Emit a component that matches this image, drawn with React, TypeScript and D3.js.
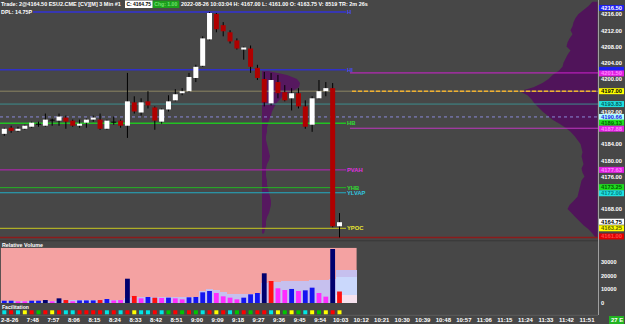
import React, { useLayoutEffect, useRef, useState } from "react";
import * as d3 from "d3";

// ---------------- data ----------------
const barOpen = [4186.5,4188.0,4187.25,4187.75,4188.25,4189.0,4188.5,4190.0,4189.75,4190.5,
 4189.75,4188.5,4189.25,4190.0,4190.0,4187.75,4189.5,4189.75,4188.5,4194.25,
 4191.75,4194.5,4193.0,4189.5,4192.5,4194.75,4196.5,4197.0,4200.25,4203.25,
 4209.75,4216.0,4213.25,4211.5,4209.5,4207.25,4207.5,4202.75,4200.0,4194.0,
 4199.25,4196.75,4195.25,4196.5,4193.25,4188.75,4195.25,4197.0,4197.75,4163.75];
const barHigh = [4188.0,4188.5,4188.25,4188.75,4189.5,4189.5,4191.5,4190.25,4191.5,4191.0,
 4190.0,4190.0,4190.25,4191.0,4191.5,4190.0,4190.75,4190.0,4201.5,4195.75,
 4195.25,4197.0,4193.25,4192.75,4196.0,4197.5,4197.75,4201.5,4203.5,4210.5,
 4216.5,4216.25,4214.0,4212.0,4210.0,4208.0,4208.25,4203.5,4201.75,4201.5,
 4201.0,4198.5,4197.75,4197.75,4194.75,4195.75,4199.75,4199.25,4199.0,4167.0];
const barLow = [4186.0,4186.75,4187.0,4187.5,4188.0,4188.25,4188.25,4188.5,4188.5,4187.75,
 4188.25,4188.0,4188.0,4189.5,4187.5,4187.5,4188.75,4188.0,4185.5,4191.5,
 4191.0,4192.75,4187.5,4189.0,4192.0,4194.5,4196.0,4196.75,4199.25,4203.0,
 4209.5,4211.5,4210.5,4208.75,4207.25,4204.75,4201.5,4199.75,4193.25,4193.5,
 4195.25,4194.5,4192.25,4192.75,4187.75,4187.0,4195.0,4195.75,4163.5,4161.0];
const barClose = [4187.75,4187.25,4187.75,4188.5,4189.25,4189.0,4190.0,4190.0,4190.75,4189.5,
 4188.5,4189.0,4190.0,4190.5,4187.75,4189.75,4189.5,4188.5,4194.5,4192.0,
 4194.25,4193.5,4189.75,4192.5,4194.5,4196.25,4197.0,4200.5,4203.0,4210.0,
 4216.25,4212.25,4211.75,4209.25,4207.5,4207.75,4203.0,4200.25,4194.25,4199.75,
 4196.5,4194.75,4196.5,4193.25,4188.25,4195.25,4197.0,4197.75,4163.75,4164.75];

const barVolume = [1700,1700,1250,1250,1700,1700,2200,1250,3450,2200,
 1250,1900,1900,1900,2200,2960,1900,2200,18000,5200,
 3450,4450,3950,3700,3950,3450,2700,4200,4450,7900,
 8900,7400,4940,3950,2700,3950,6420,7400,22000,16300,
 10900,9630,10400,8900,9380,11350,7400,4700,40000,8519];
const volumeClass = "BBMMBBNMNRMBBBRBMMNRMBRMBMMBBBBMMMMBBBNRMMBMBBMMNR".split("");
const avgVolume = [1500,1500,1500,1600,1600,1600,1800,1800,1800,1900,
 1900,1900,2200,2200,2200,2300,2300,2300,4000,4200,
 4200,4300,4300,4300,4400,4400,4400,4500,4500,9000,
 10500,10000,8000,6500,6300,6300,6300,6400,15000,15500,
 15800,16000,16200,16400,16500,16800,17000,17200,17500,24400,
 24400,24400];
const bandStartBar = 49;
const bandHigh = [19500, 19500, 19500];
const bandLow = [5900, 5900, 5900];
const volumePaneMax = 40800;

const facilitation = "CRCYRGRYRCCRRRRCRCRYCCRCGRGRGCRYRCGRGRRCYGYGCYGYRY".split("");

const timeLabels = ["7:48","7:57","8:06","8:15","8:24","8:33","8:42","8:51","9:00","9:09",
 "9:18","9:27","9:36","9:45","9:54","10:03","10:12","10:21","10:30","10:39","10:48",
 "10:57","11:06","11:15","11:24","11:33","11:42","11:51"];
const priceTicks = [4216, 4212, 4208, 4204, 4200, 4192, 4184, 4180, 4176, 4168];
const volumeTicks = [30000, 20000, 10000, 0];

const levelNames = ["H","HI","VAH","POC","VWAP","VWAPB","HB","VAL","PVAH","YHB","YLVAP","YPOC","LOD"];
const levelPrices = [4216.5, 4202.25, 4201.5, 4197.0, 4193.83, 4190.66, 4189.13, 4187.88, 4177.63, 4173.25, 4172.0, 4163.25, 4161.0];

const axisBoxKinds = ["H","HI","VAH","POC","VWAP","VWAPB","HB","VAL","PVAH","YHB","YLVAP","LAST","YPOC","LOD"];
const axisBoxValues = [4216.5, 4202.25, 4201.5, 4197.0, 4193.83, 4190.66, 4189.13, 4187.88, 4177.63, 4173.25, 4172.0, 4164.75, 4163.25, 4161.0];

const profilePrices = [4219,4218,4217,4216,4215,4214,4213,4212,4211,4210,4209,4208,4207,4206,4205,4204,4203,4202,4201,4200,
 4199,4198,4197,4196,4195,4194,4193,4192,4191,4190,4189,4188,4187,4186,4185,4184,4183,4182,4181,4180,
 4179,4178,4177,4176,4175,4174,4173,4172,4171,4170,4169,4168,4167,4166,4165,4164,4163,4162,4161];
const profileVolume = [500,900,1400,1900,2200,2400,2500,2700,2500,2800,3000,3100,2700,3000,3200,3400,3500,3900,4500,4900,
 5500,6400,7800,7000,6600,6300,5900,5500,5000,4500,3800,3200,2700,2300,2000,1700,1600,1500,1600,1500,
 1400,1600,1500,1300,1600,1700,1800,1900,2000,2400,2800,3000,2600,2200,1800,1400,900,500,200];
const midProfilePrices = [4202,4201,4200,4199,4198,4197,4196,4195,4194,4193,4192,4191,4190,4189,4188,4187,4186,4185,4184,4183,
 4182,4181,4180,4179,4178,4177,4176,4175,4174,4173,4172,4171,4170,4169,4168,4167,4166,4165,4164,4163,4162];
const midProfileVolume = [600,2500,3500,3800,3700,3000,2200,1800,1400,1200,1000,900,700,600,500,500,400,400,500,600,
 700,800,700,500,400,400,400,500,500,600,700,800,900,900,800,700,500,400,400,300,200];

const header1 = "Trade: 2@4164.50 ESU2.CME [CV][M] 3 Min #1";
const headerClose = "C: 4164.75";
const headerChg = "Chg: 1.00";
const header2 = "2022-08-26 10:03:04 H: 4167.00 L: 4161.00 O: 4163.75 V: 8519 TR: 2m 26s";
const header3 = "DPL: 14.75P";

// ---------------- styles ----------------
const BG = "#474747";
const FONT = "'Liberation Sans', Arial, sans-serif";
const volColors: Record<string, string> = { N: "#00006e", B: "#1414f0", M: "#ff2cff", R: "#ff1010" };
const facColors: Record<string, string> = { C: "#00e6e6", R: "#ff0000", Y: "#ffff00", G: "#00c400" };
type Seg = { x0: number; x1: number; color: string; w: number; dash?: string };
const levelStyle: Record<string, { segs: Seg[]; label?: string; labelColor?: string }> = {
  H: { segs: [{ x0: 33, x1: 346, color: "#3232d6", w: 1.5 }], label: "H", labelColor: "#4a4aff" },
  HI: { segs: [{ x0: 0, x1: 346, color: "#3030c8", w: 1.5 }], label: "HI", labelColor: "#4a4aff" },
  VAH: { segs: [{ x0: 350, x1: 598, color: "#d020d0", w: 1 }] },
  POC: { segs: [{ x0: 0, x1: 598, color: "#8c8462", w: 1 }, { x0: 352, x1: 598, color: "#f0b030", w: 1.5, dash: "4,2" }] },
  VWAP: { segs: [{ x0: 0, x1: 598, color: "#3c8c8c", w: 1 }] },
  VWAPB: { segs: [{ x0: 0, x1: 598, color: "#8a8ad8", w: 1, dash: "3,3" }] },
  HB: { segs: [{ x0: 0, x1: 346, color: "#22c222", w: 1.5 }], label: "HB", labelColor: "#30e030" },
  VAL: { segs: [{ x0: 350, x1: 598, color: "#c038c0", w: 1 }] },
  PVAH: { segs: [{ x0: 0, x1: 346, color: "#c020c0", w: 1 }], label: "PVAH", labelColor: "#e030e0" },
  YHB: { segs: [{ x0: 0, x1: 346, color: "#22b822", w: 1 }], label: "YHB", labelColor: "#30e030" },
  YLVAP: { segs: [{ x0: 0, x1: 346, color: "#22aac2", w: 1 }], label: "YLVAP", labelColor: "#30c8e0" },
  YPOC: { segs: [{ x0: 0, x1: 346, color: "#c8c820", w: 1 }], label: "YPOC", labelColor: "#e8e830" },
  LOD: { segs: [{ x0: 0, x1: 598, color: "#8a1c1c", w: 1.5 }] },
};
const boxStyle: Record<string, { bg: string; fg: string; shift: number; text: boolean }> = {
  H: { bg: "#2020f0", fg: "#ffffff", shift: -4, text: true }, HI: { bg: "#2020f0", fg: "#ffffff", shift: 0, text: false },
  VAH: { bg: "#e020e0", fg: "#ff86ff", shift: 0.5, text: true }, POC: { bg: "#ffff00", fg: "#000000", shift: 0, text: true },
  VWAP: { bg: "#20e0e0", fg: "#006060", shift: 0, text: true }, VWAPB: { bg: "#b0ffff", fg: "#2020e0", shift: 0, text: true },
  HB: { bg: "#20e020", fg: "#006000", shift: -0.5, text: true }, VAL: { bg: "#e020e0", fg: "#ff86ff", shift: 0.5, text: true },
  PVAH: { bg: "#e020e0", fg: "#ff86ff", shift: 0, text: true }, YHB: { bg: "#20e020", fg: "#006000", shift: -0.5, text: true },
  YLVAP: { bg: "#20e0e0", fg: "#008080", shift: 0.5, text: true }, LAST: { bg: "#ffffff", fg: "#000000", shift: -0.5, text: true },
  YPOC: { bg: "#ffff00", fg: "#606000", shift: 0, text: true }, LOD: { bg: "#e00000", fg: "#ff4848", shift: -1, text: true },
};

const txt = { fontFamily: FONT, fontWeight: 700 as const, fontSize: 6.2 };
const axTxt = { fontFamily: FONT, fontWeight: 700 as const, fontSize: 5.6 };

function FitText(props: { x: number; y: number; width: number; fill: string; size?: number; children: string }) {
  const ref = useRef<SVGTextElement>(null);
  const [k, setK] = useState(1);
  useLayoutEffect(() => {
    const el = ref.current;
    if (!el) return;
    const n = el.getComputedTextLength();
    if (n > 0) setK(Math.min(1, props.width / n));
  }, [props.children, props.width]);
  return (
    <text ref={ref} transform={`translate(${props.x},${props.y}) scale(${k},1)`} fill={props.fill}
      {...txt} fontSize={props.size ?? 6.2}>{props.children}</text>
  );
}

export default function App() {
  const x = d3.scaleLinear().domain([0, 49]).range([4.3, 339.5]);
  const step = x(1) - x(0);
  const y = d3.scaleLinear().domain([4216, 4168]).range([14, 209]);
  const vy = d3.scaleLinear().domain([0, 30000]).range([303, 262.5]);
  const pw = d3.scaleLinear().domain([0, 100]).range([0, 1]);
  const bodyW = 5;

  const rightProfile = d3.area<number>()
    .y((_, i) => y(profilePrices[i]))
    .x0(597.5)
    .x1((d) => 597.5 - pw(d))
    .curve(d3.curveLinear)(profileVolume);
  const midProfile = d3.area<number>()
    .y((_, i) => y(midProfilePrices[i]))
    .x0(262)
    .x1((d) => 262 + pw(d))
    .curve(d3.curveLinear)(midProfileVolume);

  return (
    <div>
      <style>{`body{margin:0;background:${BG}}`}</style>
      <svg width={625} height={324} style={{ display: "block" }}>
        <rect x={0} y={0} width={625} height={324} fill={BG} />
        <defs>
          <clipPath id="pricePane"><rect x={0} y={0} width={598} height={240.5} /></clipPath>
        </defs>
        <g clipPath="url(#pricePane)">
          <path d={rightProfile || ""} fill="#50145a" />
          <path d={midProfile || ""} fill="#56185f" />
          {levelNames.map((n, i) => {
            const st = levelStyle[n];
            const yy = y(levelPrices[i]);
            return (
              <g key={n}>
                {st.segs.map((s, j) => (
                  <line key={j} x1={s.x0} x2={s.x1} y1={yy} y2={yy} stroke={s.color} strokeWidth={s.w} strokeDasharray={s.dash} />
                ))}
                {st.label && (
                  <text x={347} y={yy + 2.1} fill={st.labelColor} {...txt} fontSize={5.8}>{st.label}</text>
                )}
              </g>
            );
          })}
          {barOpen.map((o, i) => {
            const c = barClose[i];
            const cx = x(i);
            const top = y(Math.max(o, c));
            const bot = y(Math.min(o, c));
            const doji = o === c;
            const fill = doji ? "#000000" : c > o ? "#ffffff" : "#b00000";
            return (
              <g key={i}>
                <line x1={cx} x2={cx} y1={y(barHigh[i])} y2={y(barLow[i])} stroke="#000000" strokeWidth={1} />
                <rect x={cx - bodyW / 2} y={top} width={bodyW} height={Math.max(1, bot - top)} fill={fill} />
              </g>
            );
          })}
        </g>
        <line x1={0} x2={598} y1={240.8} y2={240.8} stroke="#333333" strokeWidth={0.8} />

        {/* right price axis */}
        <line x1={598.5} x2={598.5} y1={0} y2={315} stroke="#a0a0a0" strokeWidth={1} />
        {axisBoxKinds.map((k, i) => {
          const st = boxStyle[k];
          const yy = y(axisBoxValues[i]) + st.shift;
          return (
            <g key={k + i}>
              <rect x={599} y={yy - 3} width={25} height={6} fill={st.bg} />
              {st.text && (
                <text x={601} y={yy + 2} fill={st.fg} {...axTxt} textLength={21} lengthAdjust="spacingAndGlyphs">{axisBoxValues[i].toFixed(2)}</text>
              )}
            </g>
          );
        })}
        {priceTicks.map((p) => (
          <text key={p} x={601} y={y(p) + 2.3} fill="#ffffff" {...axTxt} textLength={21} lengthAdjust="spacingAndGlyphs">{p.toFixed(2)}</text>
        ))}

        {/* header */}
        <FitText x={1} y={6.3} width={120} fill="#ffffff">{header1}</FitText>
        <rect x={125} y={0.5} width={27.7} height={7.5} fill="#ffffff" />
        <FitText x={126.5} y={6.3} width={24.5} fill="#000000">{headerClose}</FitText>
        <rect x={152.7} y={0.5} width={26.6} height={7.5} fill="#1c9e1c" />
        <FitText x={154.3} y={6.3} width={23} fill="#6ee06e">{headerChg}</FitText>
        <FitText x={181} y={6.3} width={186.5} fill="#ffffff">{header2}</FitText>
        <FitText x={1} y={13.8} width={31} fill="#ffffff">{header3}</FitText>

        {/* relative volume pane */}
        <FitText x={2} y={246.6} width={41} size={5.8} fill="#ffffff">Relative Volume</FitText>
        <rect x={x(0) - step / 2} y={vy(volumePaneMax)} width={x(51) - x(0) + step} height={vy(0) - vy(volumePaneMax)} fill="#f4a2a2" />
        <g shapeRendering="crispEdges">
          {avgVolume.map((v, i) => (
            <rect key={i} x={x(i) - step / 2} y={vy(v)} width={step + 0.3} height={vy(0) - vy(v)} fill="#c6c0ee" />
          ))}
          {bandHigh.map((v, j) => {
            const i = bandStartBar + j;
            return (
              <g key={"b" + j}>
                <rect x={x(i) - step / 2} y={vy(v)} width={step + 0.3} height={vy(bandLow[j]) - vy(v)} fill="#cad8fc" />
                <rect x={x(i) - step / 2} y={vy(bandLow[j])} width={step + 0.3} height={vy(0) - vy(bandLow[j])} fill="#f6e2ee" />
              </g>
            );
          })}
        </g>
        {barVolume.map((v, i) => (
          <rect key={i} x={x(i) - 2.4} y={vy(v)} width={4.8} height={vy(0) - vy(v)} fill={volColors[volumeClass[i]]} />
        ))}
        {volumeTicks.map((t) => (
          <text key={t} x={601} y={vy(t) + 1.5} fill="#ffffff" {...axTxt} textLength={t === 0 ? 3.2 : 15.5} lengthAdjust="spacingAndGlyphs">{String(t)}</text>
        ))}

        {/* facilitation */}
        <FitText x={2} y={309.2} width={27} size={5.6} fill="#ffffff">Facilitation</FitText>
        {facilitation.map((f, i) => (
          <rect key={i} x={x(i) - 2} y={310.3} width={4} height={4} fill={facColors[f]} />
        ))}
        <line x1={0} x2={598} y1={315.3} y2={315.3} stroke="#6c6c6c" strokeWidth={0.6} />

        {/* x axis */}
        <text x={1} y={321.8} fill="#ffffff" {...txt} fontSize={6}>2-8-26</text>
        {timeLabels.map((t, k) => (
          <text key={t} x={x(4 + 3 * k) + 1.2} y={321.8} fill="#ffffff" {...txt} fontSize={6} textAnchor="middle">{t}</text>
        ))}
        <rect x={609} y={316} width={15} height={8} fill="#22b422" />
        <text x={611} y={322.4} fill="#ffffff" {...txt} fontSize={6}>27 E</text>
      </svg>
    </div>
  );
}
